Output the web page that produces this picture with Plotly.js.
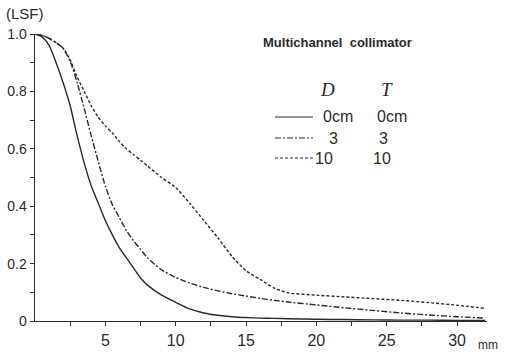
<!DOCTYPE html>
<html><head><meta charset="utf-8">
<script src="https://cdn.plot.ly/plotly-3.0.1.min.js"></script>
<style>html,body{margin:0;padding:0;background:#fff}#c{width:505px;height:354px}</style>
</head><body><div id="c"></div>
<script>
// distance in mm
const xMM = [0,0.5,1,1.5,2,2.5,3,3.5,4,4.5,5,5.5,6,6.5,7,7.5,8,9,10,11,12,13,14,15,16,17,18,20,22,24,26,28,30,32];
// LSF, D = 0 cm, T = 0 cm (solid)
const lsf0 = [1.0,0.99,0.96,0.90,0.83,0.75,0.645,0.55,0.47,0.41,0.35,0.30,0.255,0.22,0.185,0.15,0.125,0.09,0.065,0.042,0.028,0.02,0.015,0.012,0.01,0.009,0.008,0.006,0.005,0.004,0.003,0.003,0.002,0.002];
// LSF, D = 3, T = 3 (dash-dot)
const lsf3 = [1.0,0.995,0.985,0.97,0.95,0.905,0.83,0.74,0.645,0.555,0.47,0.405,0.36,0.315,0.28,0.25,0.22,0.178,0.152,0.132,0.117,0.105,0.095,0.087,0.079,0.072,0.066,0.056,0.046,0.037,0.028,0.021,0.015,0.01];
// LSF, D = 10, T = 10 (dotted)
const lsf10 = [1.0,0.995,0.985,0.97,0.95,0.91,0.85,0.80,0.75,0.71,0.68,0.655,0.625,0.60,0.58,0.56,0.54,0.50,0.465,0.41,0.35,0.29,0.225,0.175,0.145,0.115,0.098,0.09,0.084,0.078,0.072,0.064,0.055,0.044];

const xTickVals = [2.5,5,7.5,10,12.5,15,17.5,20,22.5,25,27.5,30];
const xTickText = ["","5","","10","","15","","20","","25","","30"];
const yTickVals = [0,0.1,0.2,0.3,0.4,0.5,0.6,0.7,0.8,0.9,1.0];
const yTickText = ["0","","0.2","","0.4","","0.6","","0.8","","1.0"];

const legendD = ["0cm","3","10"];
const legendT = ["0cm","3","10"];
const dashes = ["solid","6px,2px,2px,2px","3px,2px"];
const series = [lsf0, lsf3, lsf10];

const ink = "#2a2a2a";
const traces = series.map((s,i)=>({
  x: xMM, y: s, type:"scatter", mode:"lines", line:{shape:"spline", smoothing:0.6, color:ink, width:1.4, dash:dashes[i]},
  showlegend:false, cliponaxis:false, hoverinfo:"skip"
}));

const W=505,H=354, L=35, R=18, T=34, B=33;
const PW=W-L-R, PH=H-T-B;
const px = (x)=>(x-L)/PW, py=(y)=>(H-B-y)/PH;
const annotations = [
  {xref:"paper",yref:"paper",x:px(4),y:py(14),xanchor:"left",yanchor:"middle",text:"(LSF)",showarrow:false,font:{family:"Liberation Sans",size:15,color:ink}},
  {xref:"paper",yref:"paper",x:px(476),y:py(345),xanchor:"left",yanchor:"middle",text:"mm",showarrow:false,font:{family:"Liberation Sans",size:12,color:ink}},
  {xref:"paper",yref:"paper",x:px(261),y:py(43),xanchor:"left",yanchor:"middle",text:"<b>Multichannel  collimator</b>",showarrow:false,font:{family:"Liberation Sans",size:13,color:ink}},
  {xref:"paper",yref:"paper",x:px(327),y:py(90),xanchor:"center",yanchor:"middle",text:"<i>D</i>",showarrow:false,font:{family:"Liberation Serif",size:19,color:ink}},
  {xref:"paper",yref:"paper",x:px(387),y:py(90),xanchor:"center",yanchor:"middle",text:"<i>T</i>",showarrow:false,font:{family:"Liberation Serif",size:19,color:ink}}
];
const rowY = [117,138,158];
const shapes = [];
legendD.forEach((t,i)=>{
  annotations.push({xref:"paper",yref:"paper",x:px(t==="0cm"?321:(t==="3"?340:335)),y:py(rowY[i]),xanchor:t==="0cm"?"left":"right",yanchor:"middle",text:t,showarrow:false,font:{family:"Liberation Sans",size:16,color:ink}});
  annotations.push({xref:"paper",yref:"paper",x:px(t==="0cm"?375:(t==="3"?390:393)),y:py(rowY[i]),xanchor:t==="0cm"?"left":"right",yanchor:"middle",text:legendT[i],showarrow:false,font:{family:"Liberation Sans",size:16,color:ink}});
  shapes.push({type:"line",xref:"paper",yref:"paper",x0:px(275),x1:px(313),y0:py(rowY[i]),y1:py(rowY[i]),line:{color:ink,width:1.2,dash:dashes[i]}});
});

const layout = {
  width:W,height:H,margin:{l:L,r:R,t:T,b:B},
  paper_bgcolor:"#fff",plot_bgcolor:"#fff",showlegend:false,
  font:{family:"Liberation Sans",color:ink},
  xaxis:{range:[0,32.13],showgrid:false,zeroline:false,showline:true,linecolor:ink,linewidth:1.4,
    ticks:"outside",ticklen:4,tickcolor:ink,tickvals:xTickVals,ticktext:xTickText,tickfont:{size:16,color:ink}},
  yaxis:{range:[0,1.0],showgrid:false,zeroline:false,showline:true,linecolor:ink,linewidth:1.4,
    ticks:"outside",ticklen:4,tickcolor:ink,tickvals:yTickVals,ticktext:yTickText,tickfont:{size:14,color:ink}},
  annotations:annotations,shapes:shapes
};
Plotly.newPlot("c",traces,layout,{staticPlot:true,displayModeBar:false});
</script></body></html>
